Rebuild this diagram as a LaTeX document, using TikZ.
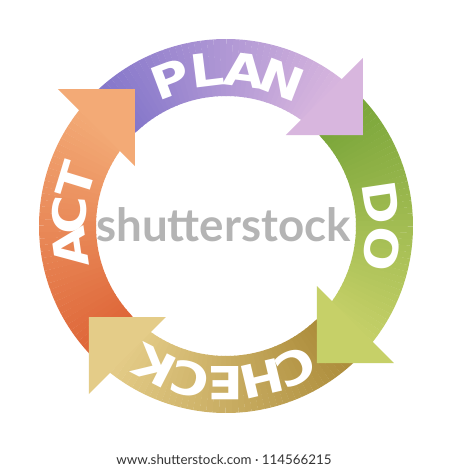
\documentclass[tikz,border=0pt]{standalone}
\usepackage{fontspec}
\usepackage{graphicx}
\setmainfont{DejaVu Sans}
\newfontfamily\urlfont{Lato}
\newfontfamily\stockfont{Lato}
\definecolor{planA}{RGB}{132,118,202}
\definecolor{planB}{RGB}{216,182,222}
\definecolor{doA}{RGB}{122,166,58}
\definecolor{doB}{RGB}{198,208,104}
\definecolor{chkA}{RGB}{172,140,58}
\definecolor{chkB}{RGB}{228,204,136}
\definecolor{actA}{RGB}{222,102,56}
\definecolor{actB}{RGB}{243,170,118}
\definecolor{stockgray}{RGB}{180,180,180}
\definecolor{urlgray}{RGB}{51,51,51}
\begin{document}
\begin{tikzpicture}[
    slice/.style={line width=1.14cm},
    letter/.style={text=white, inner sep=0pt, font=\bfseries\fontsize{26}{26}\selectfont},
    wmark/.style={text=stockgray, inner sep=0pt, font=\stockfont\bfseries\fontsize{26}{26}\selectfont},
    urltext/.style={text=urlgray, inner sep=0pt, font=\urlfont\fontsize{7.6}{7.6}\selectfont}]
  \fill[white] (-4.52,-4.88) rectangle (4.48,4.52);
  \useasboundingbox (-4.52,-4.88) rectangle (4.48,4.52);
  % the four bands, shaded slice by slice
  \foreach \b/\ca/\cb in {50/planA/planB,-40/doA/doB,-130/chkA/chkB,140/actA/actB}
    \foreach \i in {0,...,41} {
      \pgfmathsetmacro\s{\b+84-2*\i}
      \pgfmathsetmacro\p{100*\i/41}
      \draw[slice, draw=\cb!\p!\ca] (\s:3.17) arc[start angle=\s, end angle=\s-2.2, radius=3.17];
    }
  % arrow heads
  \foreach \r/\cb in {0/planB,-90/doB,-180/chkB,-270/actB}
    \fill[\cb, rotate=\r] (2.74,1.82) -- ++(0,1.54) -- ++(-1.54,-1.54) -- cycle;
  % letters round the ring
  \foreach \ch/\a [count=\k] in {P/110.6,L/97,A/83,N/69,D/8.5,O/-8.5,
      C/-63.5,H/-76.7,E/-90,C/-103.4,K/-117,A/188,C/176,T/163}
    \node[letter, rotate=\a-90] (l\k) at (\a:3.14) {\scalebox{1.15}[1]{\ch}};
  \node[wmark] (stock) at (-0.05,0.02) {shutterstock};
  \node[urltext] (url) at (-0.04,-4.68) {www.shutterstock.com · 114566215};
\end{tikzpicture}
\end{document}
